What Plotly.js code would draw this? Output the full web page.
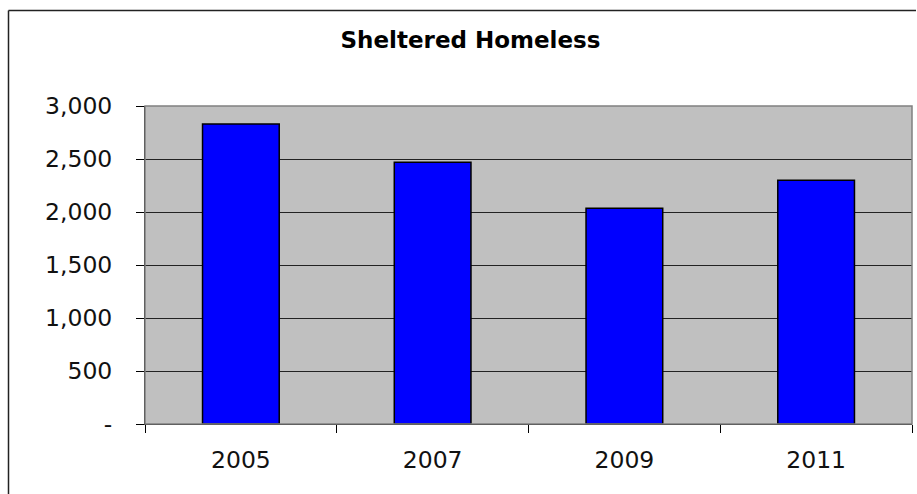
<!DOCTYPE html>
<html>
<head>
<meta charset="utf-8">
<script src="https://cdn.plot.ly/plotly-3.0.1.min.js"></script>
<style>html,body{margin:0;padding:0;background:#fff;overflow:hidden;}#chart{width:917px;height:494px;overflow:hidden;}</style>
</head>
<body>
<div id="chart"></div>
<script>
const years = ["2005", "2007", "2009", "2011"];
const sheltered = [2830, 2470, 2035, 2300];
const yTickVals = [0, 500, 1000, 1500, 2000, 2500, 3000];
const yTickText = ["-", "500", "1,000", "1,500", "2,000", "2,500", "3,000"];

const W = 917, H = 494;
const margin = {l: 145, r: 5, t: 106, b: 70};
const pw = W - margin.l - margin.r;
const ph = H - margin.t - margin.b;
const px = x => (x - margin.l) / pw;
const py = y => (H - margin.b - y) / ph;

const data = [{
  type: "bar",
  x: years,
  y: sheltered,
  marker: {color: "#0000FF", line: {color: "#000000", width: 1.5}},
  hoverinfo: "x+y"
}];

const layout = {
  width: W, height: H,
  margin: margin,
  paper_bgcolor: "#ffffff",
  plot_bgcolor: "#C0C0C0",
  font: {family: "DejaVu Sans, Verdana, sans-serif", color: "#000000", size: 23.5},
  showlegend: false,
  bargap: 0.6,
  title: {
    text: "<b>Sheltered Homeless</b>",
    font: {size: 23, family: "DejaVu Sans, Verdana, sans-serif", color: "#000"},
    x: px(470.5), xref: "paper", xanchor: "center",
    y: 1 - 48 / H, yref: "container", yanchor: "bottom"
  },
  xaxis: {
    type: "category",
    tickson: "boundaries",
    ticks: "outside", ticklen: 8, tickwidth: 1, tickcolor: "#000",
    showline: true, linecolor: "#000", linewidth: 1,
    showgrid: false, zeroline: false,
    tickfont: {size: 23.5, color: "#111"},
    ticklabelstandoff: 15,
    fixedrange: true
  },
  yaxis: {
    range: [0, 3000],
    tickvals: yTickVals, ticktext: yTickText,
    ticks: "outside", ticklen: 8, tickwidth: 1, tickcolor: "#000",
    showline: true, linecolor: "#000", linewidth: 1,
    showgrid: true, gridcolor: "#222", gridwidth: 1,
    zeroline: false,
    tickfont: {size: 23.5, color: "#111"},
    ticklabelstandoff: 19,
    fixedrange: true
  },
  shapes: [
    {type: "rect", xref: "paper", yref: "paper", x0: 0, x1: 1, y0: 0, y1: 1,
     line: {color: "#808080", width: 1.5}, layer: "above"},
    {type: "line", xref: "paper", yref: "paper", x0: px(8.5), x1: px(8.5), y0: py(10.5), y1: py(494),
     line: {color: "#222", width: 1.5}},
    {type: "line", xref: "paper", yref: "paper", x0: px(8.5), x1: px(916), y0: py(10.5), y1: py(10.5),
     line: {color: "#222", width: 1.5}}
  ]
};

Plotly.newPlot("chart", data, layout, {displayModeBar: false, staticPlot: true});
</script>
</body>
</html>
